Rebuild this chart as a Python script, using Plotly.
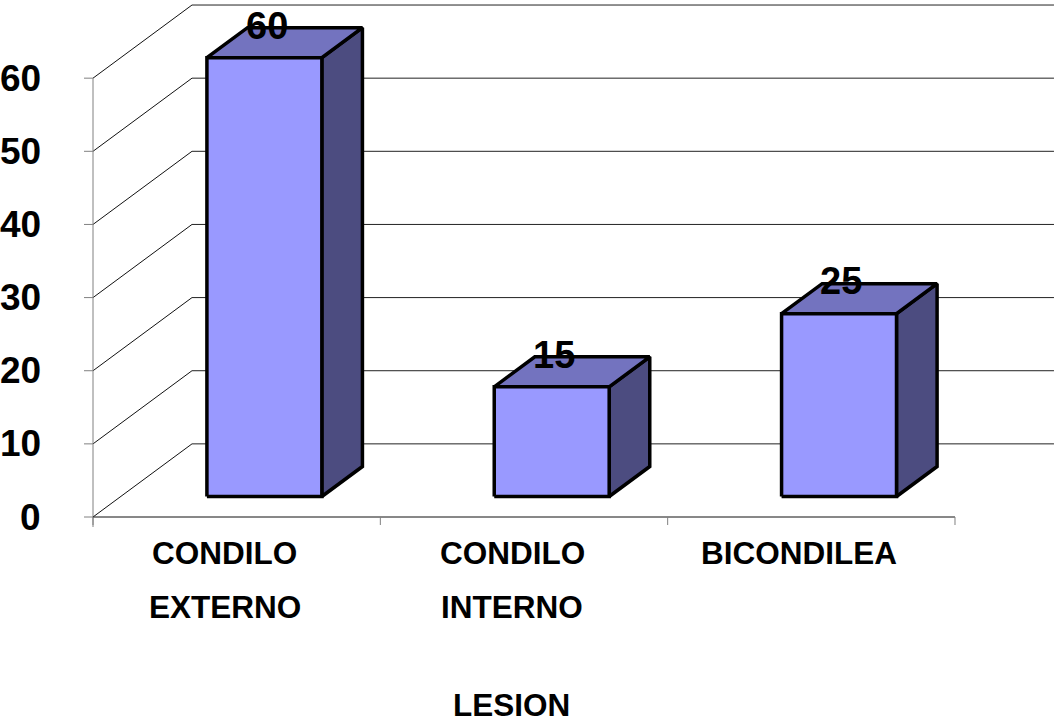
import plotly.graph_objects as go

# ---- data ----
categories = ["CONDILO<br>EXTERNO", "CONDILO<br>INTERNO", "BICONDILEA"]
category_lines = [["CONDILO", "EXTERNO"], ["CONDILO", "INTERNO"], ["BICONDILEA"]]
values = [60, 15, 25]
y_ticks = [0, 10, 20, 30, 40, 50, 60]
x_title = "LESION"

# ---- 3D look ----
FONT = "Liberation Sans, Arial, sans-serif"
FRONT = "#9999FF"
TOP = "#7373BF"
SIDE = "#4C4C80"

DX = 0.3445     # depth offset along x (category units)
DY = 10.0       # depth offset along y (value units)
BW = 0.40       # bar width
Z0, Z1 = 0.28, 0.69  # bar front/back depth fractions

# pixel geometry of the plotting frame
W, H = 1055, 726
ML, MR, MT, MB = 60, 0, 0, 186
PX_X = 287.33   # pixels per category unit
PX_Y = 7.314    # pixels per value unit
FLOOR_PX = 517  # pixel row of the value 0 on the front plane
AXIS_PX = 93    # pixel column of the value axis
x_lo = -0.5 - (AXIS_PX - ML) / PX_X
x_hi = x_lo + (W - ML - MR) / PX_X
y_lo = -((H - MB) - FLOOR_PX) / PX_Y
y_hi = y_lo + (H - MT - MB) / PX_Y


def proj(x, y, z):
    return x + z * DX, y + z * DY


fig = go.Figure()


def line(xs, ys, color="#000000", width=1):
    fig.add_trace(go.Scatter(x=xs, y=ys, mode="lines",
                             line=dict(color=color, width=width),
                             hoverinfo="skip", showlegend=False))


def poly(pts, fill):
    xs = [p[0] for p in pts] + [pts[0][0]]
    ys = [p[1] for p in pts] + [pts[0][1]]
    fig.add_trace(go.Scatter(x=xs, y=ys, mode="lines", fill="toself",
                             fillcolor=fill,
                             line=dict(color="#000000", width=3.5),
                             hoverinfo="skip", showlegend=False))


n = len(categories)
x_left, x_right = -0.5, n - 0.5

# back wall gridlines and left wall diagonals
for v in y_ticks:
    bx0, by = proj(x_left, v, 1)
    bx1, _ = proj(x_right, v, 1)
    line([bx0, bx1], [by, by], "#222222")
    line([x_left, bx0], [v, by], "#111111")

# value axis line and ticks
line([x_left, x_left], [-10 / PX_Y, y_ticks[-1]], "#808080")
for v in y_ticks:
    line([x_left - 9 / PX_X, x_left], [v, v], "#808080")

# category axis (floor front edge) and ticks
line([x_left, x_right], [0, 0], "#111111")
for k in range(n + 1):
    line([x_left + k, x_left + k], [0, -8 / PX_Y], "#808080")

# bars as boxes
for i, v in enumerate(values):
    x0, x1 = i - BW / 2, i + BW / 2
    side = [proj(x1, 0, Z0), proj(x1, 0, Z1), proj(x1, v, Z1), proj(x1, v, Z0)]
    top = [proj(x0, v, Z0), proj(x1, v, Z0), proj(x1, v, Z1), proj(x0, v, Z1)]
    front = [proj(x0, 0, Z0), proj(x1, 0, Z0), proj(x1, v, Z0), proj(x0, v, Z0)]
    poly(side, SIDE)
    poly(top, TOP)
    poly(front, FRONT)

annotations = []

# data labels on top of each box
for i, v in enumerate(values):
    lx, _ = proj(i, v, Z0)
    _, ly = proj(i, v, Z1)
    annotations.append(dict(x=lx + 0.008, y=ly + 0.3, text=f"<b>{v}</b>",
                            showarrow=False, xanchor="center", yanchor="middle",
                            font=dict(family=FONT, size=38, color="#000000")))

# value axis labels
for v in y_ticks:
    annotations.append(dict(x=x_left, y=v, xshift=-50, text=f"<b>{v}</b>",
                            showarrow=False, xanchor="right", yanchor="middle",
                            font=dict(family=FONT, size=37, color="#000000")))

# category labels
for i, lines in enumerate(category_lines):
    for j, t in enumerate(lines):
        annotations.append(dict(x=i, y=0, xshift=-12, yshift=-36 - 54 * j,
                                text=f"<b>{t}</b>", showarrow=False,
                                xanchor="center", yanchor="middle",
                                font=dict(family=FONT, size=31.5, color="#000000")))

# axis title, kept just inside the bottom edge
annotations.append(dict(x=0.958, y=0, yshift=-(H - 1 - FLOOR_PX), text=f"<b>{x_title}</b>",
                        showarrow=False, xanchor="center", yanchor="bottom",
                        font=dict(family=FONT, size=31.5, color="#000000")))

fig.update_layout(
    width=W, height=H,
    margin=dict(l=ML, r=MR, t=MT, b=MB, pad=0),
    paper_bgcolor="#FFFFFF", plot_bgcolor="#FFFFFF",
    showlegend=False,
    xaxis=dict(range=[x_lo, x_hi], visible=False, fixedrange=True),
    yaxis=dict(range=[y_lo, y_hi], visible=False, fixedrange=True),
    annotations=annotations,
)

fig.write_html("out.html", config={"displayModeBar": False})
